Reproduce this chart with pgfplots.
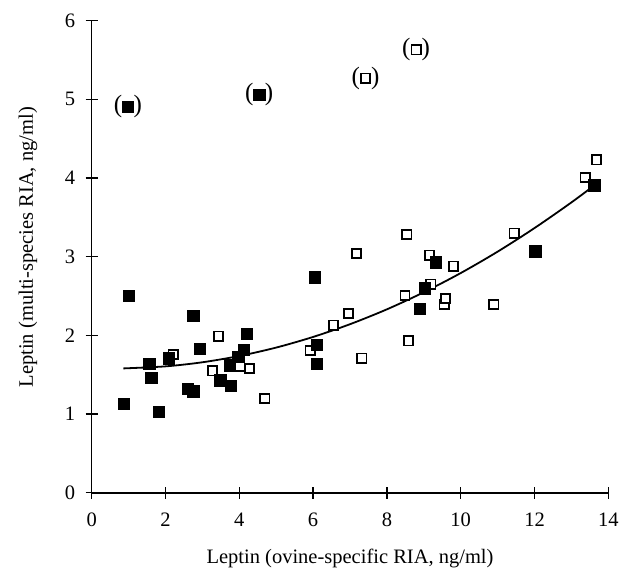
\documentclass[border=0pt]{standalone}
\usepackage{fontspec}
\setmainfont{Liberation Serif}
\usepackage{pgfplots}
\pgfplotsset{compat=1.18}

\begin{document}
\begin{tikzpicture}
\begin{axis}[
  scale only axis,
  width=516.6pt, height=472pt,
  xmin=0, xmax=14, ymin=0, ymax=6,
  xtick={0,2,...,14}, ytick={0,1,...,6},
  axis lines=left,
  axis line style={-, line width=1.6pt},
  tick align=center,
  major tick length=12pt,
  tick style={line width=1.4pt, black},
  ticklabel style={font=\fontsize{20.5}{20.5}\selectfont},
  yticklabel style={xshift=-7pt},
  xticklabel style={yshift=-11pt},
  /pgf/number format/assume math mode=true,
  xlabel={Leptin (ovine-specific RIA, ng/ml)},
  ylabel={Leptin (multi-species RIA, ng/ml)},
  every axis x label/.style={at={(axis description cs:0.5,-0.1388)}, anchor=center,
    font=\fontsize{20.5}{20.5}\selectfont},
  every axis y label/.style={at={(axis description cs:-0.1234,0.52)}, anchor=center,
    rotate=90, font=\fontsize{20.5}{20.5}\selectfont},
  clip=false,
]
% fitted curve
\addplot[black, line width=1.8pt, smooth, no marks] coordinates {
  (0.86,1.58) (2,1.606) (3,1.658) (4,1.738) (5,1.845) (6,1.980)
  (7,2.142) (8,2.331) (9,2.548) (10,2.792) (11,3.064) (12,3.364)
  (13,3.690) (13.7,3.935)};
% open squares
\addplot[only marks, mark=square*, mark size=4.6pt,
  mark options={fill=white, draw=black, line width=1.7pt}] coordinates {
  (2.21,1.76) (3.28,1.55) (3.43,1.99) (4.02,1.61) (4.27,1.58) (4.69,1.20)
  (5.92,1.81) (6.55,2.13) (6.96,2.28) (7.18,3.04) (7.32,1.71) (8.49,2.51)
  (8.54,3.28) (8.59,1.93) (9.15,3.02) (9.19,2.65) (9.55,2.39) (9.59,2.47)
  (9.80,2.88) (10.90,2.39) (11.45,3.30) (13.37,4.01) (13.68,4.23)};
% filled squares
\addplot[only marks, mark=square*, mark size=5.6pt,
  mark options={fill=black, draw=black}] coordinates {
  (0.86,1.13) (1.01,2.50) (1.56,1.64) (1.61,1.46) (1.82,1.03) (2.08,1.71)
  (2.60,1.32) (2.75,1.29) (2.75,2.25) (2.92,1.83) (3.48,1.43) (3.75,1.62)
  (3.77,1.36) (3.97,1.73) (4.11,1.82) (4.20,2.02) (6.05,2.74) (6.10,1.88)
  (6.10,1.64) (8.88,2.34) (9.03,2.60) (9.33,2.93) (12.02,3.07) (13.62,3.91)};
% excluded outliers (in parentheses)
\addplot[only marks, mark=square*, mark size=4.6pt,
  mark options={fill=white, draw=black, line width=1.7pt},
  nodes near coords={(\hspace{11pt})},
  every node near coord/.append style={anchor=center, font=\fontsize{25}{25}\selectfont, inner sep=0pt}]
  coordinates {(7.42,5.27) (8.79,5.63)};
\addplot[only marks, mark=square*, mark size=5.6pt,
  mark options={fill=black, draw=black},
  nodes near coords={(\hspace{11.5pt})},
  every node near coord/.append style={anchor=center, font=\fontsize{25}{25}\selectfont, inner sep=0pt}]
  coordinates {(0.98,4.91) (4.54,5.06)};
\end{axis}
\path (current axis.origin) ++(-91.7pt,-73.3pt) rectangle ++(628pt,566pt);
\end{tikzpicture}
\end{document}
